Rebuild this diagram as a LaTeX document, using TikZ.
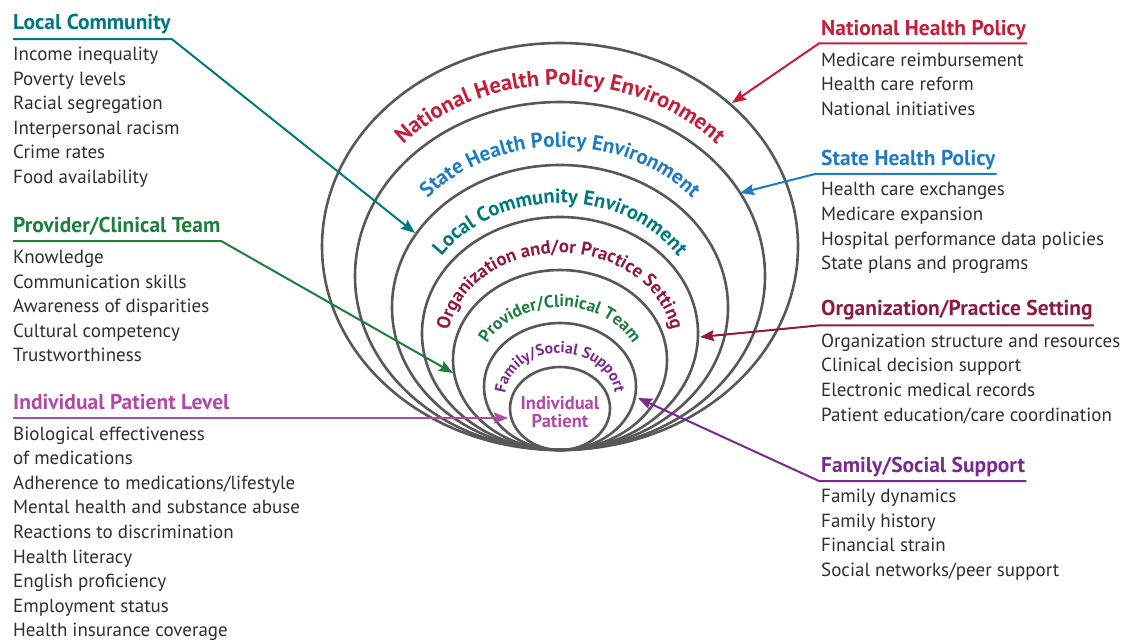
\documentclass[tikz,border=0pt]{standalone}
\usepackage{fontspec}
\setmainfont{PT Sans}
\usetikzlibrary{decorations.text,arrows.meta,calc}
\definecolor{natred}{HTML}{C41E3A}
\definecolor{stblue}{HTML}{1F7BC2}
\definecolor{lcteal}{HTML}{00797E}
\definecolor{orgmar}{HTML}{8E1A42}
\definecolor{provgr}{HTML}{1E7E3E}
\definecolor{fampur}{HTML}{7A2A8E}
\definecolor{indmag}{HTML}{B04AA6}
\definecolor{ringgray}{HTML}{58585A}
\definecolor{txtgray}{HTML}{2E2E2E}
\newcommand\ringlabel[6]{\path[decorate,decoration={text along path,text align=center,text={|\fontsize{#5}{#5}\selectfont\bfseries\color{#4}|#6}}] ({560+#2*cos(175)},{#1+#3*sin(175)}) arc[start angle=175,end angle=365,x radius=#2,y radius=#3];}
\newcommand\itemcol[4]{\foreach \t [count=\i] in {#4}{\node[item] (#3\i) at (#1,{#2+(\i-1)*24.6}) {\t};}}
\begin{document}
\begin{tikzpicture}[x=1pt,y=-1pt,
 ring/.style={draw=ringgray,line width=2.6pt},
 item/.style={anchor=base west,inner sep=0pt,font=\fontsize{19}{21}\selectfont,text=txtgray},
 head/.style={anchor=base west,inner sep=0pt,font=\fontsize{21.5}{24}\selectfont\bfseries,text=#1},
 conn/.style={draw=#1,line width=2pt,-{Stealth[length=14pt,width=11pt,inset=2pt]}},
]
\useasboundingbox (0,0) rectangle (1129,640);

% rings
\draw[ring] (560,246.5) ellipse [x radius=238, y radius=203.5];
\draw[ring] (560,276) ellipse [x radius=205, y radius=174];
\draw[ring] (560,307.5) ellipse [x radius=168, y radius=142.5];
\draw[ring] (560,333.5) ellipse [x radius=138, y radius=116.5];
\draw[ring] (560,360) ellipse [x radius=107, y radius=90];
\draw[ring] (560,386.5) ellipse [x radius=76, y radius=63.5];
\draw[ring] (560,408.5) ellipse [x radius=50, y radius=41.5];

% ring labels
\ringlabel{261.25}{209}{176.25}{natred}{22.5}{National Health Policy Environment}
\ringlabel{291.75}{173}{144.75}{stblue}{21}{State Health Policy Environment}
\ringlabel{320.5}{141}{117.5}{lcteal}{20.5}{Local Community Environment}
\ringlabel{346.75}{113}{93.75}{orgmar}{18.7}{Organization and/or Practice Setting}
\ringlabel{373.25}{81}{66.25}{provgr}{17.4}{Provider/Clinical Team}
\ringlabel{397.5}{55}{44.5}{fampur}{15.7}{Family/Social Support}
\node[font=\fontsize{18.5}{18.4}\selectfont\bfseries,text=indmag,align=center,inner sep=0pt] (ip) at (560,412) {Individual\\Patient};

% left column
\node[head=lcteal] (lch) at (13,29.5) {Local Community};
\itemcol{13}{60.5}{lci}{Income inequality,Poverty levels,Racial segregation,Interpersonal racism,Crime rates,Food availability}
\node[head=provgr] (pch) at (13,232.7) {Provider/Clinical Team};
\itemcol{13}{263.4}{pci}{Knowledge,Communication skills,Awareness of disparities,Cultural competency,Trustworthiness}
\node[head=indmag] (iph) at (13,409) {Individual Patient Level};
\itemcol{13}{440}{ipi}{Biological effectiveness,of medications,Adherence to medications/lifestyle,Mental health and substance abuse,Reactions to discrimination,Health literacy,English proficiency,Employment status,Health insurance coverage}

% right column
\node[head=natred] (nhh) at (821,35.4) {National Health Policy};
\itemcol{821}{66}{nhi}{Medicare reimbursement,Health care reform,National initiatives}
\node[head=stblue] (shh) at (821,165.3) {State Health Policy};
\itemcol{821}{195.8}{shi}{Health care exchanges,Medicare expansion,Hospital performance data policies,State plans and programs}
\node[head=orgmar] (oph) at (821,315.4) {Organization/Practice Setting};
\itemcol{821}{347.2}{opi}{Organization structure and resources,Clinical decision support,Electronic medical records,Patient education/care coordination}
\node[head=fampur] (fsh) at (821,472.3) {Family/Social Support};
\itemcol{821}{502.7}{fsi}{Family dynamics,Family history,Financial strain,Social networks/peer support}

% arrow tips
\coordinate (lctip) at (415,233);
\coordinate (pctip) at (453,373);
\coordinate (iptip) at (508,418);
\coordinate (nhtip) at (732,103);
\coordinate (shtip) at (740,193);
\coordinate (optip) at (700,337);
\coordinate (fstip) at (638,398);

% connectors
\draw[conn=lcteal] ($(lch.base west)+(0,9.5)$) -- ($(lch.base east)+(1,9.5)$) -- (lctip);
\draw[conn=provgr] ($(pch.base west)+(0,8.5)$) -- ($(pch.base east)+(1,8.5)$) -- (pctip);
\draw[conn=indmag] ($(iph.base west)+(0,9)$) -- (iptip);
\draw[conn=natred] ($(nhh.base east)+(1,8)$) -- ($(nhh.base west)+(-2,8)$) -- (nhtip);
\draw[conn=stblue] ($(shh.base east)+(1,8.5)$) -- ($(shh.base west)+(-5,8.5)$) -- (shtip);
\draw[conn=orgmar] ($(oph.base east)+(1,10)$) -- ($(oph.base west)+(-2,10)$) -- (optip);
\draw[conn=fampur] ($(fsh.base east)+(1,8.7)$) -- ($(fsh.base west)+(-2,8.7)$) -- (fstip);
\end{tikzpicture}
\end{document}
